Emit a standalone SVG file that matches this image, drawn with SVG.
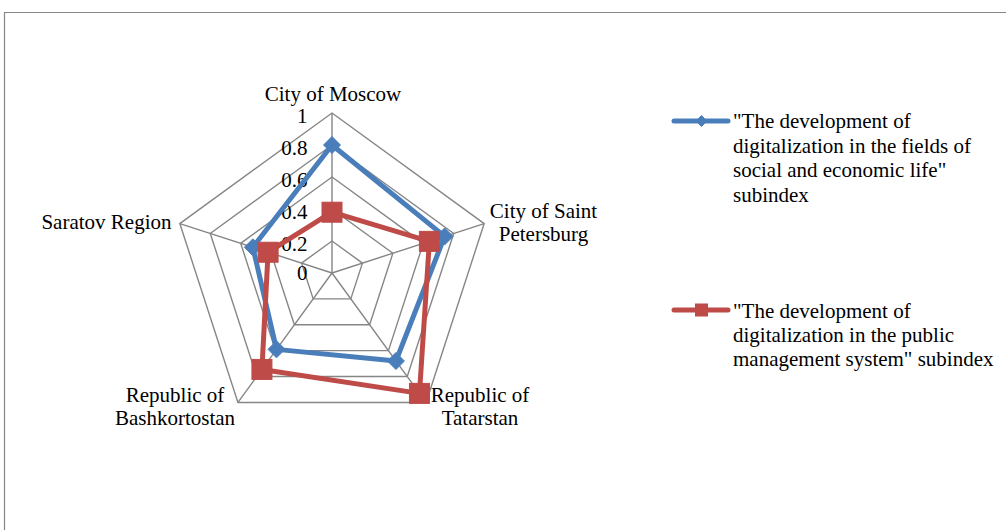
<svg xmlns="http://www.w3.org/2000/svg" width="1006" height="530" viewBox="0 0 1006 530" font-family="'Liberation Serif', 'Times New Roman', 'DejaVu Serif', serif">
<style>
text{font-family:'Liberation Serif','Times New Roman','DejaVu Serif',serif;font-size:21px;fill:#000}
.grid{fill:none;stroke:#868686;stroke-width:1.4}
.blue{fill:none;stroke:#4A7EBB;stroke-width:5;stroke-linejoin:round;stroke-linecap:round}
.red{fill:none;stroke:#BE4B48;stroke-width:5;stroke-linejoin:round;stroke-linecap:round}
.bm{fill:#4A7EBB;stroke:#4A7EBB;stroke-width:1}
.rm{fill:#BE4B48;stroke:#BE4B48;stroke-width:1}
</style>
<defs>
<path id="dia" d="M0,-8.5 L8.5,0 L0,8.5 L-8.5,0 Z" class="bm"/>
<rect id="sq" x="-10" y="-10" width="20" height="20" class="rm"/>
</defs>
<rect width="1006" height="530" fill="#fff"/>
<path d="M4.5,530 V12.5 H1006" fill="none" stroke="#868686" stroke-width="1.2"/>
<g id="grid">
<polygon class="grid" points="332,113 484.18,223.56 426.05,402.44 237.95,402.44 179.82,223.56"/>
<polygon class="grid" points="332,145 453.74,233.45 407.24,376.55 256.76,376.55 210.26,233.45"/>
<polygon class="grid" points="332,177 423.31,243.34 388.43,350.66 275.57,350.66 240.69,243.34"/>
<polygon class="grid" points="332,209 392.87,253.22 369.62,324.78 294.38,324.78 271.13,253.22"/>
<polygon class="grid" points="332,241 362.44,263.11 350.81,298.89 313.19,298.89 301.56,263.11"/>
<path class="grid" d="M332,273 L332,113 M332,273 L484.18,223.56 M332,273 L426.05,402.44 M332,273 L237.95,402.44 M332,273 L179.82,223.56"/>
</g>
<g id="ticks" text-anchor="end">
<text x="307.5" y="123">1</text>
<text x="307.5" y="155">0.8</text>
<text x="307.5" y="187">0.6</text>
<text x="307.5" y="219">0.4</text>
<text x="307.5" y="251">0.2</text>
<text x="307.5" y="280">0</text>
</g>
<g id="categories" text-anchor="middle">
<g id="cat-moscow"><text x="333" y="101">City of Moscow</text></g>
<g id="cat-spb"><text x="543.5" y="217.5">City of Saint</text><text x="543.5" y="241">Petersburg</text></g>
<g id="cat-tatarstan"><text x="480" y="401.5">Republic of</text><text x="480" y="425">Tatarstan</text></g>
<g id="cat-bashkortostan"><text x="175" y="401.5">Republic of</text><text x="175" y="425">Bashkortostan</text></g>
<g id="cat-saratov"><text x="171.5" y="228.5" text-anchor="end">Saratov Region</text></g>
</g>
<g id="series-blue">
<polygon class="blue" points="332,145 444.61,236.41 395.95,361.02 276.51,349.37 252.87,247.29"/>
<use href="#dia" x="332" y="145"/>
<use href="#dia" x="444.61" y="236.41"/>
<use href="#dia" x="395.95" y="361.02"/>
<use href="#dia" x="276.51" y="349.37"/>
<use href="#dia" x="252.87" y="247.29"/>
</g>
<g id="series-red">
<polygon class="red" points="332,212.2 429.39,241.36 419.46,393.38 261.93,369.43 268.09,252.24"/>
<use href="#sq" x="332" y="212.2"/>
<use href="#sq" x="429.39" y="241.36"/>
<use href="#sq" x="419.46" y="393.38"/>
<use href="#sq" x="261.93" y="369.43"/>
<use href="#sq" x="268.09" y="252.24"/>
</g>
<g id="legend-blue">
<line class="blue" x1="674" y1="121" x2="728" y2="121"/>
<path d="M701.5,115.5 L707,121 L701.5,126.5 L696,121 Z" class="bm"/>
<text x="733" y="128">"The development of</text>
<text x="733" y="152.5">digitalization in the fields of</text>
<text x="733" y="177">social and economic life"</text>
<text x="733" y="201.5">subindex</text>
</g>
<g id="legend-red">
<line class="red" x1="674" y1="310" x2="728" y2="310"/>
<rect x="695.5" y="304" width="12" height="12" class="rm"/>
<text x="733" y="318">"The development of</text>
<text x="733" y="342">digitalization in the public</text>
<text x="733" y="366">management system" subindex</text>
</g>
</svg>
